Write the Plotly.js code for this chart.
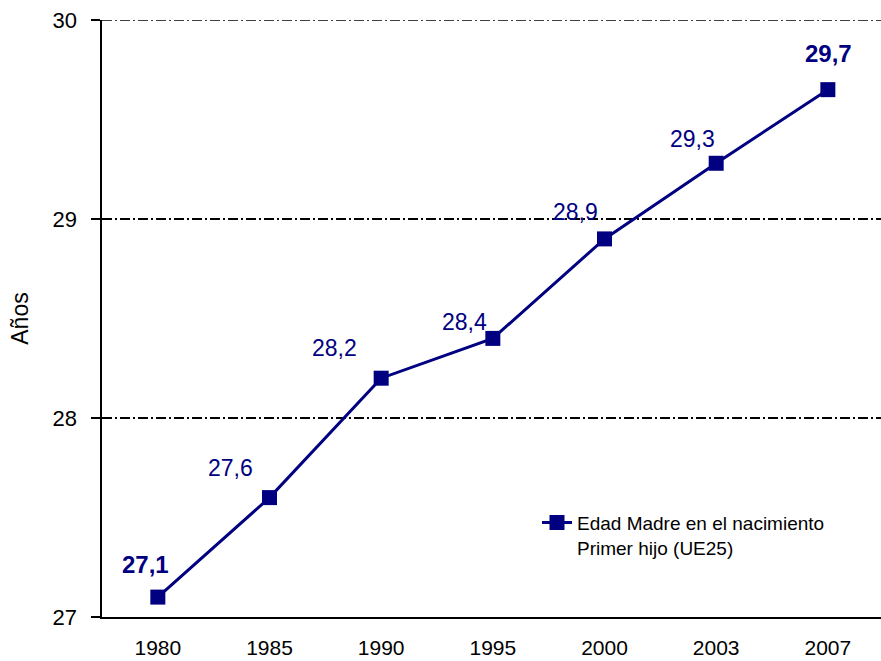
<!DOCTYPE html>
<html><head><meta charset="utf-8">
<script src="https://cdn.plot.ly/plotly-3.0.1.min.js"></script>
<style>html,body{margin:0;padding:0;background:#fff}</style>
</head><body>
<div id="chart" style="width:881px;height:661px"></div>
<script>
const years = ["1980","1985","1990","1995","2000","2003","2007"];
const ages = [27.1, 27.6, 28.2, 28.4, 28.9, 29.28, 29.65];
const labels = ["27,1","27,6","28,2","28,4","28,9","29,3","29,7"];
const boldLabel = [true,false,false,false,false,false,true];
const labelShiftX = [-12,-39,-47,-28,-29,-24,1];
const labelShiftY = [33,30,30,16,27,24,36];
const yTicks = [27, 28, 29, 30];
const yTickText = ["27","28","29","30"];
const seriesName = "Edad Madre en el nacimiento<br>Primer hijo (UE25)";

const navy = "#000080";
const FONT = "'Liberation Sans', Arial, sans-serif";
const gridDash = "10px,3px,2px,3px";
const trace = {
  x: years.map((_, i) => i), y: ages, type: "scatter", mode: "lines+markers",
  name: seriesName,
  line: {color: navy, width: 3},
  marker: {symbol: "square", size: 15, color: navy},
  hoverinfo: "skip"
};
const annotations = labels.map((t, i) => ({
  x: i, y: ages[i], xref: "x", yref: "y", showarrow: false,
  text: boldLabel[i] ? "<b>" + t + "</b>" : t,
  xshift: labelShiftX[i], yshift: labelShiftY[i],
  font: {family: FONT, size: boldLabel[i] ? 24 : 23, color: navy}
}));
const layout = {
  width: 881, height: 661,
  margin: {l: 102, r: 0, t: 20, b: 44, pad: 0},
  paper_bgcolor: "#fff", plot_bgcolor: "#fff",
  font: {family: FONT, color: "#000", size: 22},
  showlegend: true,
  legend: {x: 0.5584, y: 0.19, xanchor: "left", yanchor: "top", bgcolor: "rgba(0,0,0,0)",
           valign: "top", font: {size: 19, color: "#000"}, itemwidth: 30},
  xaxis: {
    range: [-0.5, 6.476], tickmode: "array", tickvals: years.map((_, i) => i), ticktext: years,
    showgrid: false, zeroline: false, showline: true, linecolor: "#000", linewidth: 2,
    ticks: "", tickfont: {size: 21}, ticklabelstandoff: 11, fixedrange: true
  },
  yaxis: {
    range: [27, 30], tickmode: "array", tickvals: yTicks, ticktext: yTickText,
    showgrid: true, gridcolor: "#000", gridwidth: 1.5, griddash: gridDash,
    zeroline: false, showline: true, linecolor: "#000", linewidth: 2.5,
    ticks: "outside", ticklen: 9, tickwidth: 2, tickcolor: "#000", tickfont: {size: 22},
    ticklabelstandoff: 9,
    title: {text: "Años", font: {size: 23}, standoff: 18}, fixedrange: true
  },
  shapes: [{type: "line", xref: "paper", yref: "y", x0: 0, x1: 1, y0: yTicks[3], y1: yTicks[3],
            line: {color: "#000", width: 1.5, dash: gridDash}, layer: "below"}],
  annotations: annotations
};
Plotly.newPlot("chart", [trace], layout, {staticPlot: true, displayModeBar: false});
</script>
</body></html>
